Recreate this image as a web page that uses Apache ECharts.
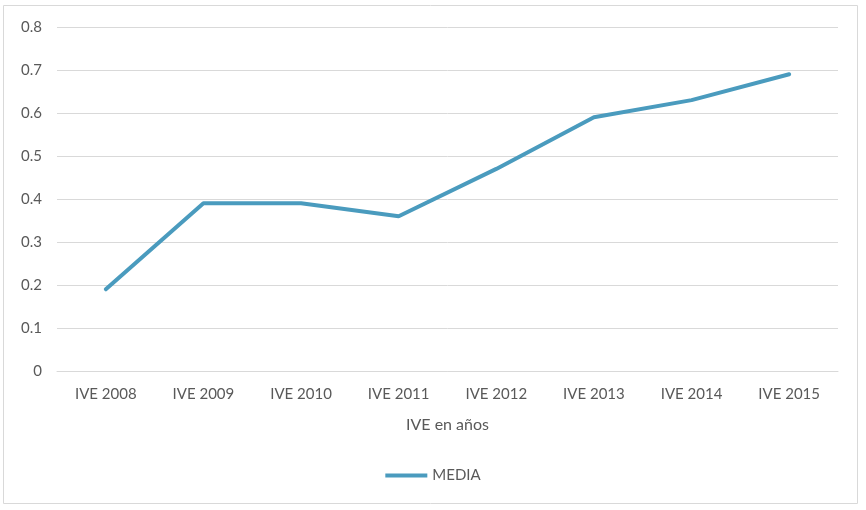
<!DOCTYPE html>
<html><head><meta charset="utf-8">
<script src="https://cdn.jsdelivr.net/npm/echarts@6/dist/echarts.min.js"></script>
<style>html,body{margin:0;padding:0;background:#fff}#c{width:866px;height:510px}</style>
</head><body><div id="c"></div>
<script>
const categories = ['IVE 2008','IVE 2009','IVE 2010','IVE 2011','IVE 2012','IVE 2013','IVE 2014','IVE 2015'];
const media = [0.19, 0.39, 0.39, 0.36, 0.47, 0.59, 0.63, 0.69];
const yTicks = [0, 0.1, 0.2, 0.3, 0.4, 0.5, 0.6, 0.7, 0.8];
const chart = echarts.init(document.getElementById('c'));
const font = 'Lato, "Open Sans", sans-serif';
chart.setOption({
  animation: false,
  textStyle: {fontFamily: font},
  graphic: [{type:'rect', shape:{x:3.5,y:5.5,width:854,height:498}, style:{fill:'none', stroke:'#d9d9d9', lineWidth:1}, silent:true}],
  grid: {left: 57, right: 28, top: 27, bottom: 139},
  legend: {bottom: 22, left: 'center', itemWidth: 42, itemHeight: 4, itemGap: 4,
    textStyle: {color:'#595959', fontSize: 15, fontFamily: font},
    data: [{name:'MEDIA', icon:'rect'}]},
  xAxis: {type:'category', data: categories, boundaryGap: true,
    name: 'IVE en años', nameLocation:'middle', nameGap: 46,
    nameTextStyle: {color:'#595959', fontSize: 16, fontFamily: font},
    axisLine: {lineStyle:{color:'#d9d9d9'}}, axisTick: {show:false},
    axisLabel: {color:'#595959', fontSize: 15, margin: 16, fontFamily: font}},
  yAxis: {type:'value', min: 0, max: 0.8, interval: 0.1,
    axisLine:{show:false}, axisTick:{show:false},
    splitLine: {lineStyle:{color:'#d9d9d9', width: 1}},
    axisLabel: {color:'#595959', fontSize: 15, margin: 15, fontFamily: font,
      formatter: v => { const t = yTicks.find(x => Math.abs(x - v) < 1e-9); return t === undefined ? '' : String(t); }}},
  series: [{name:'MEDIA', type:'line', data: media, symbol:'none',
    lineStyle:{color:'#4a9bbe', width: 4, cap:'round'}, itemStyle:{color:'#4a9bbe'}}]
});
</script></body></html>
